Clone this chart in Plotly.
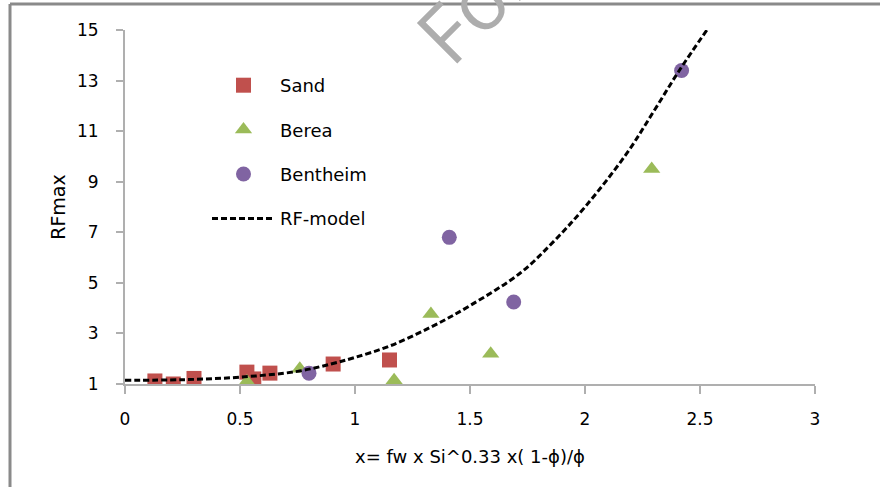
import plotly.graph_objects as go

# Data
sand_x = [0.13, 0.21, 0.30, 0.53, 0.56, 0.63, 0.905, 1.15]
sand_y = [1.12, 1.00, 1.22, 1.47, 1.20, 1.43, 1.79, 1.95]

berea_x = [0.53, 0.76, 1.17, 1.33, 1.59, 2.29]
berea_y = [1.10, 1.60, 1.15, 3.77, 2.20, 9.50]

bentheim_x = [0.80, 1.41, 1.69, 2.42]
bentheim_y = [1.43, 6.80, 4.24, 13.40]

model_x = [0.0, 0.25, 0.5, 0.75, 0.9, 1.0, 1.15, 1.33, 1.5, 1.72, 1.86, 2.0, 2.18, 2.3, 2.41, 2.53]
model_y = [1.15, 1.17, 1.27, 1.5, 1.8, 2.05, 2.5, 3.25, 4.1, 5.4, 6.6, 8.0, 10.1, 11.8, 13.4, 15.0]

x_ticks = [0, 0.5, 1, 1.5, 2, 2.5, 3]
y_ticks = [1, 3, 5, 7, 9, 11, 13, 15]

FONT = "DejaVu Sans, Liberation Sans, sans-serif"

fig = go.Figure()
fig.add_trace(go.Scatter(x=sand_x, y=sand_y, mode="markers", name="Sand", legendgroup="a",
                         marker=dict(symbol="square", size=15, color="#C0504D")))
fig.add_trace(go.Scatter(x=berea_x, y=berea_y, mode="markers", name="Berea", legendgroup="b",
                         marker=dict(symbol="triangle-up", size=15, color="#9BBB59")))
fig.add_trace(go.Scatter(x=bentheim_x, y=bentheim_y, mode="markers", name="Bentheim", legendgroup="c",
                         marker=dict(symbol="circle", size=15, color="#8064A2")))
fig.add_trace(go.Scatter(x=model_x, y=model_y, mode="lines", name="RF-model", legendgroup="d",
                         line=dict(color="black", width=3, dash="6px,3px", shape="spline")))

fig.update_layout(
    width=880, height=487,
    margin=dict(l=125, r=65, t=30, b=103),
    paper_bgcolor="white", plot_bgcolor="white",
    font=dict(family=FONT, size=17, color="black"),
    showlegend=True,
    legend=dict(x=(207 - 125) / 690, y=(384 - 67) / 354, xanchor="left", yanchor="top",
                font=dict(size=18, family=FONT), tracegroupgap=18, itemwidth=63,
                bgcolor="rgba(0,0,0,0)"),
    xaxis=dict(range=[0, 3], tickvals=x_ticks, ticktext=[str(v) for v in x_ticks],
               showgrid=False, zeroline=False, showline=True, linecolor="#AFAFAF", linewidth=2,
               ticks="outside", ticklen=8, tickwidth=2, tickcolor="#AFAFAF",
               ticklabelstandoff=11,
               title=dict(text="x= fw x Si^0.33 x( 1-ϕ)/ϕ", font=dict(size=18), standoff=22)),
    yaxis=dict(range=[1, 15], tickvals=y_ticks, ticktext=[str(v) for v in y_ticks],
               showgrid=False, zeroline=False, showline=True, linecolor="#AFAFAF", linewidth=2,
               ticks="outside", ticklen=7, tickwidth=2, tickcolor="#AFAFAF",
               ticklabelstandoff=14,
               title=dict(text="RFmax", font=dict(size=19), standoff=6)),
    shapes=[
        dict(type="line", xref="paper", yref="paper", x0=(10 - 125) / 690, x1=(10 - 125) / 690,
             y0=-0.35, y1=(384 - 4) / 354, line=dict(color="#8A8A8A", width=3)),
        dict(type="line", xref="paper", yref="paper", x0=(10 - 125) / 690, x1=1.2,
             y0=(384 - 4) / 354, y1=(384 - 4) / 354, line=dict(color="#8A8A8A", width=3)),
    ],
    annotations=[
        dict(text="For", xref="paper", yref="paper", x=(473 - 125) / 690, y=(384 - 4) / 354,
             showarrow=False, textangle=-45, font=dict(size=80, color="#ADADAD",
                                                       family="Open Sans, sans-serif"),
             xanchor="center", yanchor="middle"),
    ],
)

fig.write_html("out.html")
